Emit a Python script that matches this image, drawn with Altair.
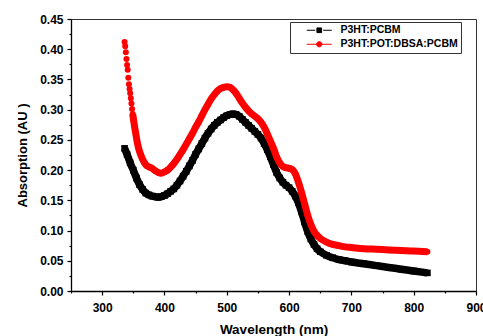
import altair as alt
import pandas as pd

# ---- data ----
red_wl = [336, 337, 338, 339, 340, 341, 342, 343, 344, 345, 346, 347, 348, 349, 350, 351, 352,
          354, 356, 358, 360, 364, 368, 372, 376, 380, 385, 390, 395, 400, 405, 410, 415, 420,
          425, 430, 435, 440, 445, 450, 455, 460, 465, 470, 475, 480, 485, 490, 495, 500, 505,
          510, 515, 520, 525, 530, 535, 540, 545, 550, 555, 560, 565, 570, 575, 580, 585, 590,
          595, 600, 605, 610, 615, 620, 625, 630, 635, 640, 645, 650, 660, 670, 680, 690, 700,
          720, 740, 760, 780, 800, 822]
red_abs = [0.412, 0.405, 0.395, 0.384, 0.374, 0.366, 0.353, 0.342, 0.334, 0.327, 0.319, 0.310,
           0.301, 0.293, 0.286, 0.279, 0.272, 0.260, 0.248, 0.238, 0.231, 0.220, 0.212, 0.207,
           0.205, 0.203, 0.199, 0.196, 0.195, 0.197, 0.200, 0.205, 0.211, 0.218, 0.226, 0.234,
           0.243, 0.252, 0.261, 0.271, 0.280, 0.290, 0.300, 0.309, 0.318, 0.325, 0.331, 0.335,
           0.337, 0.338, 0.337, 0.333, 0.327, 0.319, 0.311, 0.304, 0.298, 0.293, 0.289, 0.285,
           0.279, 0.271, 0.260, 0.248, 0.236, 0.222, 0.212, 0.206, 0.204, 0.203, 0.201, 0.194,
           0.180, 0.163, 0.144, 0.125, 0.110, 0.099, 0.092, 0.087, 0.081, 0.077, 0.075, 0.073,
           0.072, 0.070, 0.069, 0.068, 0.067, 0.066, 0.065]

black_wl = [336, 340, 345, 350, 355, 360, 365, 370, 375, 380, 385, 390, 395, 400, 405, 410, 415,
            420, 425, 430, 435, 440, 445, 450, 455, 460, 465, 470, 475, 480, 485, 490, 495, 500,
            505, 510, 515, 520, 525, 530, 535, 540, 545, 550, 555, 560, 565, 570, 575, 580, 585,
            590, 595, 600, 605, 610, 615, 620, 625, 630, 635, 640, 645, 650, 660, 670, 680, 690,
            700, 720, 740, 760, 780, 800, 822]
black_abs = [0.236, 0.226, 0.212, 0.200, 0.187, 0.176, 0.168, 0.162, 0.159, 0.157, 0.156, 0.155,
             0.156, 0.158, 0.161, 0.165, 0.169, 0.175, 0.182, 0.190, 0.198, 0.207, 0.216, 0.226,
             0.235, 0.244, 0.253, 0.261, 0.268, 0.274, 0.279, 0.283, 0.287, 0.290, 0.292, 0.293,
             0.292, 0.289, 0.284, 0.279, 0.274, 0.269, 0.264, 0.259, 0.253, 0.244, 0.234, 0.222,
             0.209, 0.196, 0.187, 0.180, 0.175, 0.171, 0.165, 0.157, 0.146, 0.131, 0.114, 0.098,
             0.086, 0.077, 0.070, 0.065, 0.059, 0.055, 0.052, 0.050, 0.048, 0.045, 0.042, 0.039,
             0.036, 0.033, 0.030]

series_names = ["P3HT:PCBM", "P3HT:POT:DBSA:PCBM"]
series_colors = ["#000000", "#ff0000"]
x_ticks = list(range(250, 901, 50))
y_ticks = [round(i * 0.025, 3) for i in range(19)]

df = pd.concat([
    pd.DataFrame({"wl": black_wl, "A": black_abs, "series": series_names[0]}),
    pd.DataFrame({"wl": red_wl, "A": red_abs, "series": series_names[1]}),
])

FONT = "Liberation Sans"

x_enc = alt.X("wl:Q", scale=alt.Scale(domain=[250, 900], nice=False),
              axis=alt.Axis(title="Wavelength (nm)", values=x_ticks,
                            labelExpr="datum.value % 100 === 0 ? datum.label : ''",
                            tickSize={"condition": {"test": "datum.value % 100 === 0", "value": 4}, "value": 2},
                            labelPadding=7, titlePadding=9, titleFontSize=13.5,
                            labelFlush=False, labelOverlap=False))
y_enc = alt.Y("A:Q", scale=alt.Scale(domain=[0, 0.45], nice=False),
              axis=alt.Axis(title="Absorption (AU )", values=y_ticks,
                            labelExpr="round(datum.value*1000) % 50 === 0 ? format(datum.value, '.2f') : ''",
                            tickSize={"condition": {"test": "round(datum.value*1000) % 50 === 0", "value": 4}, "value": 2},
                            labelPadding=4, titlePadding=10, labelOverlap=False))

base = alt.Chart(df)

black_line = base.transform_filter(alt.datum.series == series_names[0]).mark_line(
    color="#000000", strokeWidth=7.5, interpolate="monotone").encode(x=x_enc, y=y_enc)
black_pts = base.transform_filter(alt.datum.series == series_names[0]).mark_square(
    color="#000000", size=44, opacity=1).encode(x=x_enc, y=y_enc)
red_line = base.transform_filter((alt.datum.series == series_names[1]) & (alt.datum.wl >= 349)).mark_line(
    color="#ff0000", strokeWidth=7, interpolate="monotone").encode(x=x_enc, y=y_enc)
red_pts = base.transform_filter(alt.datum.series == series_names[1]).mark_circle(
    color="#ff0000", size=36, opacity=1).encode(x=x_enc, y=y_enc)

# legend glyphs: line + marker (unit = 3 px with symbolSize 36)
sq_path = "M-4.17,0H-1.3M1.3,0H4.17M-0.78,-0.78H0.78V0.78H-0.78Z"
ci_path = "M-4.17,0H4.17M0.87,0A0.87,0.87,0,1,1,-0.87,0A0.87,0.87,0,1,1,0.87,0Z"

leg = alt.Legend(title=None, orient="none", legendX=219, legendY=3,
                 symbolSize=36, symbolStrokeWidth=1, symbolOpacity=1,
                 labelFont=FONT, labelFontWeight="bold", labelFontSize=10.5, labelColor="#000",
                 labelExpr="datum.label + '\u2003\u2009'",
                 strokeColor="#333333", fillColor="#ffffff", padding=3, rowPadding=3,
                 symbolOffset=21, labelOffset=16)

legend_layer = base.mark_point(filled=True, opacity=0).encode(
    x=x_enc, y=y_enc,
    fill=alt.Fill("series:N", scale=alt.Scale(domain=series_names, range=series_colors), legend=leg),
    stroke=alt.Stroke("series:N", scale=alt.Scale(domain=series_names, range=series_colors), legend=leg),
    shape=alt.Shape("series:N", scale=alt.Scale(domain=series_names, range=[sq_path, ci_path]), legend=leg),
)

chart = alt.layer(legend_layer, black_line, black_pts, red_line, red_pts).properties(
    width=405, height=272,
    autosize=alt.AutoSizeParams(type="none"),
    padding={"left": 71, "top": 19, "right": 7, "bottom": 45},
).configure_view(stroke="#333333", strokeWidth=1).configure_axis(
    labelFont=FONT, labelFontWeight="bold", labelFontSize=12, labelColor="#000",
    titleFont=FONT, titleFontWeight="bold", titleFontSize=13, titleColor="#000",
    domainColor="#000", domainWidth=1.3, tickColor="#000", tickWidth=1.2, grid=False,
)

chart.save("out.html", embed_options={"renderer": "svg", "actions": False})
